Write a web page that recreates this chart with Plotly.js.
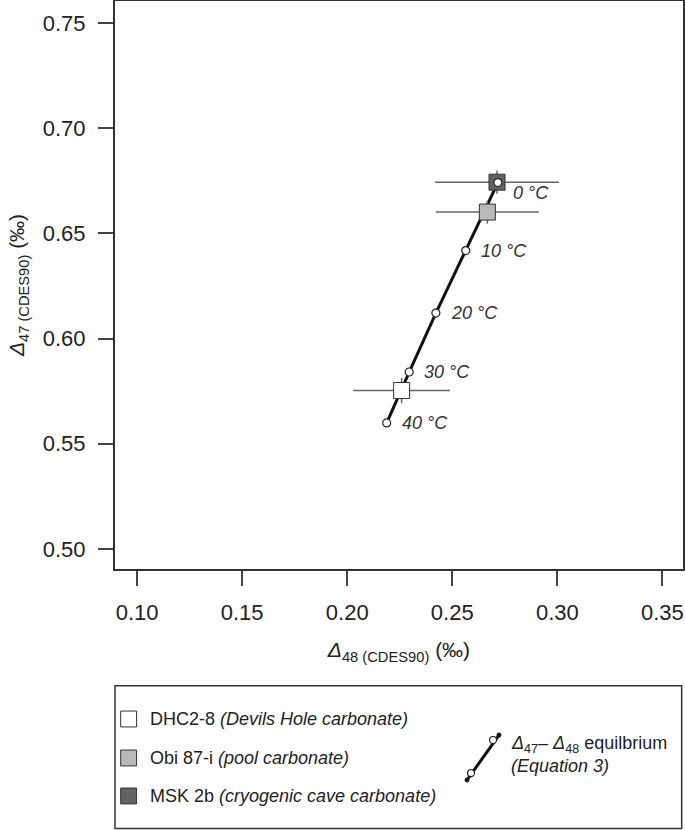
<!DOCTYPE html>
<html>
<head>
<meta charset="utf-8">
<script src="https://cdn.plot.ly/plotly-3.0.1.min.js"></script>
<style>
  body { margin: 0; background: #fff; }
  #myDiv { width: 685px; height: 830px; }
</style>
</head>
<body>
<div id="myDiv"></div>
<script>
// equilibrium line, Equation 3 (temperatures in degC)
var tempC = [0, 10, 20, 30, 40];
var eqD48 = [0.2717, 0.2564, 0.2422, 0.2295, 0.2188];
var eqD47 = [0.6741, 0.6418, 0.6121, 0.5841, 0.5599];

// carbonate samples
var sampleNames = ['DHC2-8', 'Obi 87-i', 'MSK 2b'];
var sampleNotes = ['(Devils Hole carbonate)', '(pool carbonate)', '(cryogenic cave carbonate)'];
var sampleD48 = [0.2259, 0.2667, 0.2713];
var sampleD48err = [0.0230, 0.0245, 0.0295];
var sampleD47 = [0.5753, 0.6601, 0.6743];
var sampleD47err = [0.0060, 0.0055, 0.0055];
var sampleFill = ['#ffffff', '#b9b9b9', '#626262'];

var xTicks = [0.10, 0.15, 0.20, 0.25, 0.30, 0.35];
var yTicks = [0.50, 0.55, 0.60, 0.65, 0.70, 0.75];

var fontFam = 'Liberation Sans, Arial, Helvetica, sans-serif';
var ink = '#222';

var traceLine = {
  x: eqD48,
  y: eqD47,
  mode: 'lines',
  type: 'scatter',
  line: {color: '#111', width: 3},
  hoverinfo: 'skip'
};

var traceSamples = {
  x: sampleD48,
  y: sampleD47,
  text: sampleNames,
  mode: 'markers',
  type: 'scatter',
  error_x: {type: 'data', array: sampleD48err, visible: true, color: '#666', thickness: 1.5, width: 0},
  error_y: {type: 'data', array: sampleD47err, visible: true, color: '#666', thickness: 1.5, width: 0},
  marker: {symbol: 'square', size: 16, color: sampleFill, line: {color: '#333', width: 1}}
};

var traceCircles = {
  x: eqD48,
  y: eqD47,
  mode: 'markers',
  type: 'scatter',
  marker: {symbol: 'circle', size: 8, color: '#fff', line: {color: '#222', width: 1.2}}
};

var annotations = [];
for (let i = 0; i < tempC.length; i++) {
  annotations.push({
    x: eqD48[i], y: eqD47[i], xref: 'x', yref: 'y',
    text: '<i>' + tempC[i] + ' °C</i>',
    showarrow: false, xanchor: 'left', yanchor: 'middle',
    xshift: 13, yshift: i === 0 ? -10 : 0,
    font: {family: fontFam, size: 18, color: '#333'}
  });
}

// legend drawn by hand (box at bottom)
var shapes = [
  {type: 'rect', xref: 'paper', yref: 'paper', x0: 0, x1: 0.9977, y0: -0.4569, y1: -0.2055,
   line: {color: '#333', width: 1.5}, fillcolor: 'rgba(0,0,0,0)'}
];
var legY = [-0.2641, -0.3327, -0.3996];
for (let i = 0; i < sampleNames.length; i++) {
  shapes.push({type: 'rect', xref: 'paper', yref: 'paper',
    x0: 0.010, x1: 0.038, y0: legY[i] - 0.014, y1: legY[i] + 0.014,
    line: {color: '#333', width: 1}, fillcolor: sampleFill[i]});
  annotations.push({
    xref: 'paper', yref: 'paper', x: 0.058, y: legY[i],
    text: sampleNames[i] + ' <i>' + sampleNotes[i] + '</i>',
    showarrow: false, xanchor: 'left', yanchor: 'middle',
    font: {family: fontFam, size: 18, color: ink}
  });
}
// little equilibrium line symbol
shapes.push({type: 'line', xref: 'paper', yref: 'paper', x0: 0.6197, y0: -0.3715, x1: 0.6761, y1: -0.2923,
  line: {color: '#111', width: 3}});
shapes.push({type: 'circle', xref: 'paper', yref: 'paper', x0: 0.6162, x1: 0.6232, y0: -0.3750, y1: -0.3680,
  line: {color: '#111', width: 1}, fillcolor: '#111'});
shapes.push({type: 'circle', xref: 'paper', yref: 'paper', x0: 0.6726, x1: 0.6796, y0: -0.2958, y1: -0.2888,
  line: {color: '#111', width: 1}, fillcolor: '#111'});
shapes.push({type: 'circle', xref: 'paper', yref: 'paper', x0: 0.6206, x1: 0.6330, y0: -0.3654, y1: -0.3530,
  line: {color: '#222', width: 1.2}, fillcolor: '#fff'});
shapes.push({type: 'circle', xref: 'paper', yref: 'paper', x0: 0.6593, x1: 0.6717, y0: -0.3073, y1: -0.2949,
  line: {color: '#222', width: 1.2}, fillcolor: '#fff'});

annotations.push({
  xref: 'paper', yref: 'paper', x: 0.6937, y: -0.3081,
  text: '<i>Δ</i><sub>47</sub>– <i>Δ</i><sub>48</sub> equilbrium',
  showarrow: false, xanchor: 'left', yanchor: 'middle',
  font: {family: fontFam, size: 18, color: ink}
});
annotations.push({
  xref: 'paper', yref: 'paper', x: 0.6937, y: -0.3468,
  text: '<i>(Equation 3)</i>',
  showarrow: false, xanchor: 'left', yanchor: 'middle',
  font: {family: fontFam, size: 18, color: ink}
});

var axisCommon = {
  showgrid: false, zeroline: false,
  showline: true, mirror: true, linecolor: '#333', linewidth: 2,
  ticks: 'outside', ticklen: 15, tickwidth: 2, tickcolor: '#444',
  tickfont: {family: fontFam, size: 22, color: ink},
  tickformat: '.2f'
};

var layout = {
  width: 685,
  height: 830,
  margin: {l: 115, r: 2, t: 1, b: 261},
  paper_bgcolor: '#fff',
  plot_bgcolor: '#fff',
  showlegend: false,
  font: {family: fontFam, color: ink},
  xaxis: Object.assign({}, axisCommon, {
    range: [0.0895, 0.3598],
    tickvals: xTicks,
    ticklabelstandoff: 8,
    title: {text: '<i>Δ</i><sub>48 (CDES90)</sub> (‰)', font: {family: fontFam, size: 21, color: ink}, standoff: 18}
  }),
  yaxis: Object.assign({}, axisCommon, {
    range: [0.4905, 0.7604],
    tickvals: yTicks,
    ticklabelstandoff: 8,
    title: {text: '<i>Δ</i><sub>47 (CDES90)</sub> (‰)', font: {family: fontFam, size: 21, color: ink}, standoff: 12}
  }),
  shapes: shapes,
  annotations: annotations
};

var data = [traceLine, traceSamples, traceCircles];
Plotly.newPlot('myDiv', data, layout, {displayModeBar: false, staticPlot: true});
</script>
</body>
</html>
